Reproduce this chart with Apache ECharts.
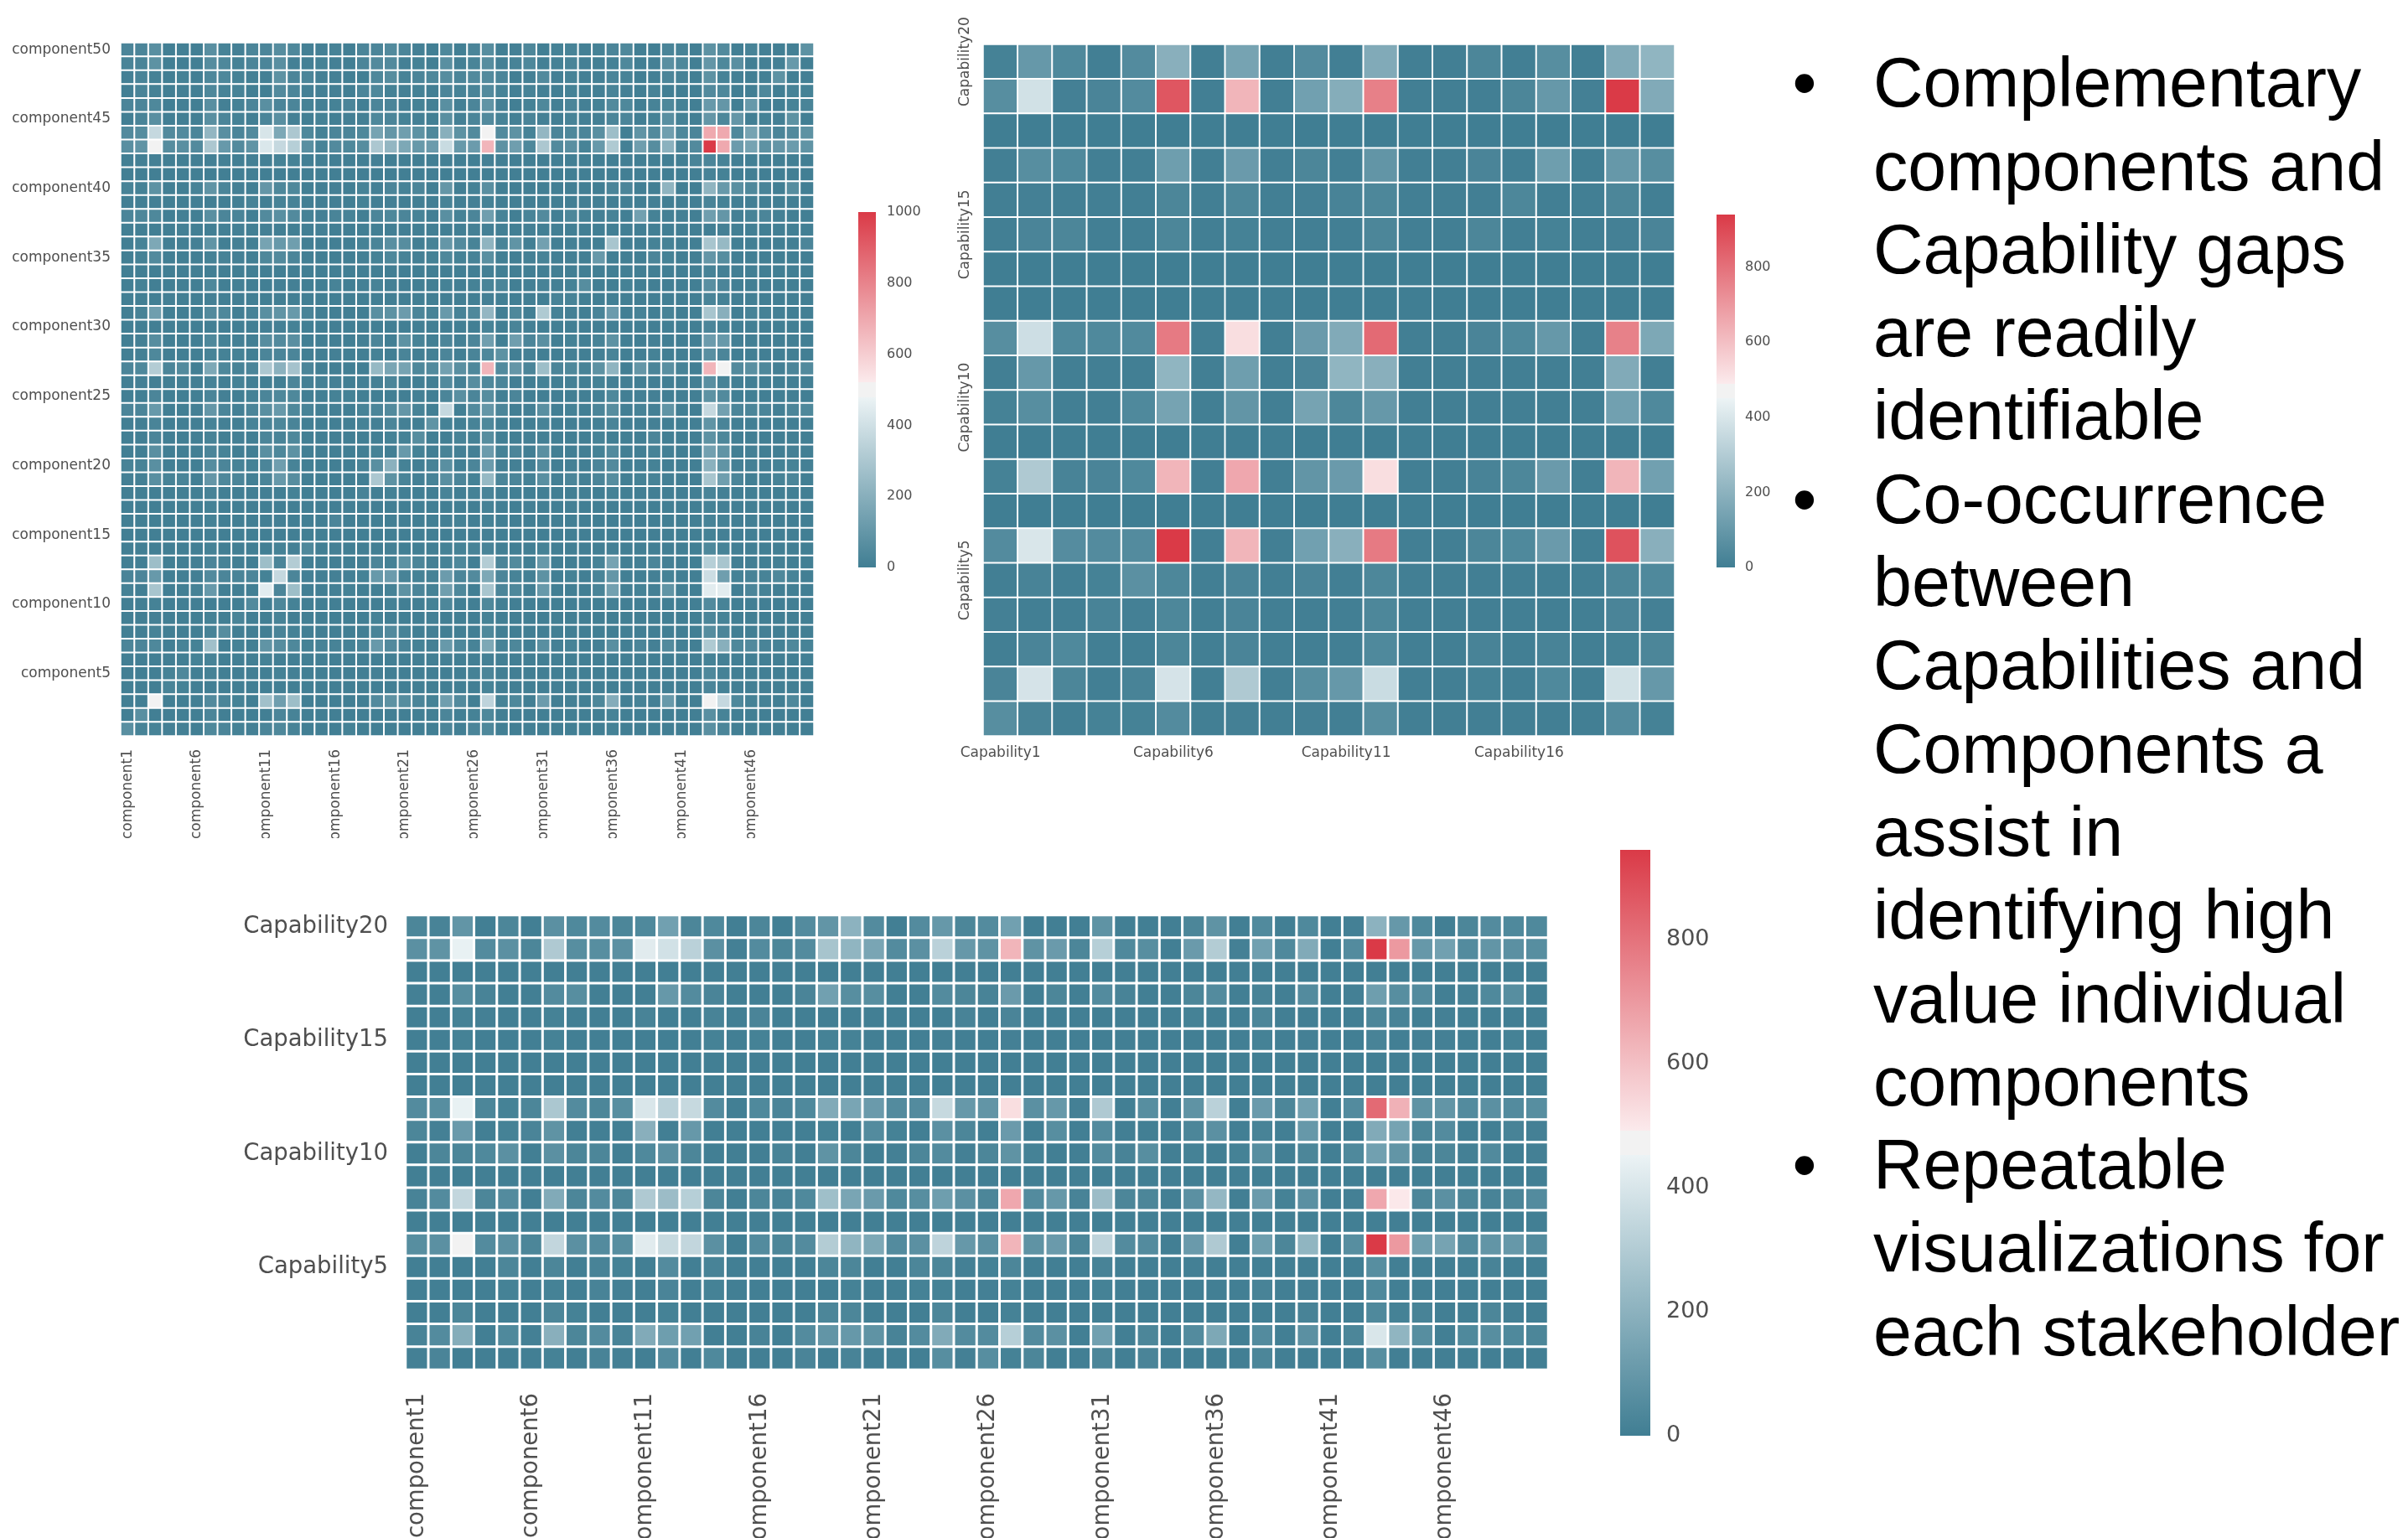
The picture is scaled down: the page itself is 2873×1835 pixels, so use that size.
<!DOCTYPE html>
<html>
<head>
<meta charset="utf-8">
<title>Capabilities and components</title>
<style>
  html, body { margin: 0; padding: 0; background: #fff; }
  #main { width: 2873px; height: 1835px; }
</style>
<script src="https://cdn.jsdelivr.net/npm/echarts@6/dist/echarts.min.js"></script>
</head>
<body>
<div id="main"></div>
<script>
// component x component, first row is component50, last row is component1
const componentRows = [
  [30,30,70,5,10,5,70,20,10,30, 30,60,40,10,10,20,5,30,30,50, 30,10,5,40,5,30,60,5,10,35, 5,15,20,10,15,30,40,5,5,25, 20,5,80,50,5,20,10,5,10,80],
  [25,25,80,5,5,5,60,40,15,30, 30,70,10,10,15,10,5,30,50,50, 10,15,5,70,10,25,60,10,20,40, 10,15,25,10,10,15,40,5,10,70, 40,5,100,40,70,5,10,10,110,5],
  [10,25,15,5,15,5,40,40,15,10, 10,80,30,30,10,10,5,5,40,60, 20,30,40,60,30,50,50,30,5,10, 50,10,20,10,10,30,20,5,10,30, 20,5,80,20,10,5,10,80,5,10],
  [5,25,15,5,10,5,40,20,20,5, 5,50,30,10,10,10,5,30,40,15, 10,15,5,30,20,25,50,20,10,20, 10,5,15,5,10,25,10,5,20,5, 5,5,50,40,5,5,40,5,20,15],
  [30,30,40,5,10,5,70,10,15,30, 70,30,30,15,10,15,30,5,30,30, 10,15,10,70,10,30,90,10,5,15, 40,10,30,10,15,50,40,5,20,40, 15,5,110,100,5,110,5,5,20,25],
  [5,25,70,5,5,5,70,30,15,5, 30,70,10,5,15,5,10,10,40,30, 15,10,5,70,10,30,50,20,10,25, 10,5,20,10,10,30,30,5,15,70, 15,5,100,35,100,5,15,10,80,5],
  [50,60,370,50,50,30,230,70,30,50, 420,170,300,40,15,30,30,40,150,100, 130,80,40,200,80,50,500,50,80,20, 230,30,40,30,70,260,5,90,50,130, 40,30,698,698,40,150,70,30,50,80],
  [70,90,500,60,70,50,300,110,50,90, 430,370,330,70,20,50,40,60,300,230, 170,110,120,380,110,120,665,80,130,40, 300,50,70,20,110,310,10,130,60,210, 30,50,1000,698,120,150,80,100,120,90],
  [5,10,10,5,5,5,10,10,5,10, 10,15,15,5,5,5,5,5,10,5, 5,5,5,10,5,5,10,5,5,5, 5,5,5,5,5,5,5,5,5,5, 5,25,30,20,5,5,5,5,5,5],
  [5,5,5,5,5,5,5,5,5,5, 5,5,5,5,5,5,5,5,5,5, 5,5,5,5,5,5,5,5,5,5, 5,5,5,5,5,5,5,5,5,5, 5,5,20,15,5,5,5,5,5,5],
  [20,15,80,5,5,20,90,30,10,5, 100,40,40,5,5,10,5,20,10,30, 20,30,5,100,5,15,70,5,5,5, 5,5,5,5,5,30,30,5,5,220, 5,5,220,110,70,40,25,5,60,5],
  [5,5,10,5,5,5,5,5,5,20, 5,20,20,5,5,5,5,15,5,10, 5,5,5,20,5,10,15,5,5,5, 5,5,5,5,10,5,5,5,10,5, 5,5,25,15,5,5,5,5,5,5],
  [30,35,40,5,10,5,70,30,25,5, 50,70,50,15,10,25,20,5,30,40, 30,20,5,70,15,30,130,20,5,25, 50,5,35,15,10,20,5,140,15,10, 10,5,130,100,10,20,30,10,5,5],
  [5,5,5,5,10,5,5,10,10,5, 10,5,5,5,10,5,5,5,5,5, 5,5,5,5,5,10,10,5,5,10, 5,5,5,5,5,5,5,5,5,5, 5,5,5,10,5,5,5,5,5,5],
  [5,20,170,5,5,10,90,5,10,5, 150,110,130,5,5,5,5,15,25,70, 60,5,20,100,50,20,220,25,90,5, 140,5,10,5,5,290,5,5,15,15, 5,5,290,240,5,5,5,5,5,30],
  [5,15,50,5,5,5,15,20,10,5, 40,50,30,5,5,5,5,10,15,40, 20,10,15,40,15,20,70,5,5,10, 20,5,10,5,110,5,5,5,30,15, 5,5,100,60,5,5,5,5,5,5],
  [5,5,5,5,5,5,5,5,5,5, 5,5,5,5,5,5,5,5,5,5, 5,5,5,5,5,5,10,5,5,5, 5,5,5,5,5,5,5,5,5,5, 5,5,20,10,5,5,5,5,5,5],
  [5,15,5,5,5,5,40,5,10,5, 5,10,10,5,5,20,5,10,20,10, 5,5,5,15,5,15,25,30,5,10, 20,10,15,60,5,5,15,5,5,5, 5,5,70,30,5,5,5,5,5,5],
  [5,5,5,10,5,5,10,5,5,5, 5,5,5,5,5,5,5,5,5,5, 5,5,5,5,5,5,10,5,5,5, 5,20,20,5,5,5,5,5,5,5, 5,5,25,15,5,5,5,5,5,5],
  [5,20,130,5,5,5,50,40,5,20, 70,90,110,25,5,5,5,5,70,80, 120,30,20,110,20,40,230,5,40,5, 310,15,10,5,25,120,5,20,5,20, 5,5,290,200,5,20,15,10,5,5],
  [5,5,5,5,5,5,5,5,5,5, 10,10,15,5,5,5,5,5,5,5, 5,5,5,5,5,5,20,5,25,10, 5,5,5,5,5,5,5,5,5,5, 5,5,30,15,5,5,5,5,5,5],
  [5,10,60,5,5,5,40,15,10,5, 60,50,70,5,5,5,5,10,30,5, 80,20,5,30,10,30,130,5,130,30, 70,5,15,5,20,80,5,5,10,5, 5,5,120,110,5,5,5,5,5,5],
  [5,10,40,5,5,5,20,15,15,5, 30,30,30,5,5,10,5,5,15,5, 25,5,10,30,5,25,40,80,5,10, 5,5,10,5,10,25,5,5,15,5, 5,5,70,30,5,5,5,5,5,5],
  [30,40,320,30,50,5,170,40,20,30, 300,210,280,30,5,5,5,5,240,160, 150,40,50,140,70,40,665,50,100,30, 260,30,40,20,80,220,5,100,30,70, 20,5,665,500,50,70,40,10,30,50],
  [5,10,5,5,5,5,20,5,15,5, 5,5,30,10,10,10,5,10,10,30, 5,5,5,50,10,60,40,30,5,5, 15,5,10,5,15,10,5,5,5,5, 5,5,70,20,5,5,5,5,5,5],
  [5,5,30,5,5,5,30,10,5,15, 30,40,40,5,5,15,15,5,5,5, 5,10,5,30,70,30,60,5,30,5, 5,5,5,5,10,40,5,10,10,5, 5,5,80,50,5,5,5,5,5,5],
  [30,30,110,5,5,10,100,30,10,30, 70,110,40,20,5,10,5,20,30,50, 100,20,5,370,5,50,100,30,5,10, 70,5,15,5,30,60,5,20,10,90, 5,5,370,140,30,30,30,10,30,40],
  [5,5,25,5,5,5,20,10,5,20, 25,35,25,5,5,5,5,15,10,30, 10,5,90,15,5,20,40,5,5,5, 20,5,5,5,10,25,5,5,10,5, 5,5,90,25,5,5,5,5,5,5],
  [5,5,30,5,5,5,20,5,10,5, 30,25,40,5,5,5,5,5,5,15, 15,60,5,5,20,15,60,5,5,10, 10,5,5,5,20,5,5,5,30,5, 5,5,80,35,5,5,5,5,5,5],
  [5,5,70,5,5,5,30,20,5,5, 70,40,80,5,5,5,5,5,15,5, 110,15,5,20,10,10,120,15,30,5, 70,5,5,5,15,50,5,5,20,10, 5,5,140,90,5,10,5,5,10,5],
  [20,20,70,5,5,5,60,30,20,15, 30,130,20,5,5,5,5,20,70,210, 15,5,20,70,5,30,120,5,10,5, 50,5,10,5,30,50,5,10,15,5, 5,5,210,90,10,10,10,15,20,10],
  [10,10,70,20,25,5,100,40,30,5, 30,110,60,5,5,5,5,5,300,80, 25,10,20,70,30,15,240,30,30,15, 70,10,30,10,30,60,5,15,20,10, 5,5,290,130,30,5,10,20,30,5],
  [5,5,5,5,5,5,20,5,5,5, 5,5,15,5,5,5,5,20,5,15, 5,5,5,20,5,15,25,5,5,5, 5,5,5,5,5,15,5,5,5,5, 5,5,25,10,5,5,5,5,5,5],
  [5,5,5,5,5,5,15,5,5,5, 5,5,5,5,5,5,10,5,5,5, 5,5,5,5,5,5,15,5,5,10, 5,5,10,5,5,5,5,5,5,5, 5,5,15,10,5,5,5,5,5,5],
  [5,5,5,5,5,5,15,5,5,5, 5,10,5,5,5,30,5,5,5,5, 5,5,5,10,15,5,15,5,5,5, 5,5,5,5,5,5,5,5,5,5, 5,5,20,15,5,5,5,5,5,5],
  [5,5,5,5,5,5,10,5,5,5, 5,5,5,5,5,5,5,5,5,5, 5,5,5,5,5,5,10,5,5,5, 5,5,5,5,5,5,5,5,5,5, 5,5,15,10,5,5,5,5,5,5],
  [5,5,5,5,5,5,15,5,5,5, 5,15,10,40,5,10,5,5,5,10, 5,5,5,15,15,20,25,5,5,5, 15,5,5,5,5,10,5,5,5,5, 5,5,40,20,5,5,5,5,5,5],
  [5,5,260,5,5,5,30,20,5,5, 260,30,320,5,5,5,5,5,30,15, 80,30,10,20,40,5,320,30,50,5, 110,5,5,5,20,150,5,10,30,10, 5,5,330,290,5,5,5,10,5,5],
  [25,30,110,5,5,5,50,30,25,30, 15,370,30,10,5,10,10,15,110,120, 20,15,15,120,30,50,170,30,20,10, 80,5,15,5,25,100,5,5,10,15, 5,5,390,130,15,20,20,40,20,5],
  [15,5,290,5,5,15,110,5,5,5, 450,30,260,5,5,10,15,5,5,15, 80,30,15,130,40,5,290,30,40,5, 110,5,5,5,25,140,5,15,10,90, 5,5,450,450,5,30,15,5,5,5],
  [5,5,15,5,5,5,5,5,5,50, 5,35,15,5,5,5,5,5,5,15, 5,5,15,35,5,5,40,5,5,5, 5,5,5,5,5,10,5,5,5,5, 5,5,50,20,5,5,5,5,5,5],
  [5,5,10,5,5,5,15,5,25,5, 5,20,5,5,5,5,5,5,15,5, 5,5,10,5,5,5,15,5,5,5, 5,5,5,5,5,5,5,5,5,5, 5,5,30,20,5,5,5,5,5,5],
  [5,5,20,5,5,5,20,60,5,5, 5,25,15,5,5,5,5,5,25,50, 20,5,10,5,5,5,40,5,5,5, 5,5,5,5,5,5,5,5,5,5, 5,5,60,30,5,5,10,5,5,5],
  [30,30,40,5,20,15,270,5,15,5, 90,60,40,15,20,20,15,25,110,50, 25,15,10,110,40,20,170,20,35,5, 70,10,20,5,10,70,5,30,10,50, 10,5,310,200,40,50,25,15,40,20],
  [5,5,5,5,5,15,20,5,5,5, 15,5,5,5,5,5,5,5,5,5, 5,5,5,10,5,5,10,5,5,5, 5,5,5,5,5,5,5,5,5,5, 5,5,15,10,5,5,5,5,5,5],
  [5,5,5,20,40,5,15,5,5,5, 5,15,10,5,5,5,5,5,10,5, 5,5,5,5,5,15,30,5,5,5, 5,5,5,5,5,5,5,5,5,5, 5,5,40,15,5,5,5,5,5,5],
  [5,5,5,25,15,5,5,5,5,5, 5,5,5,5,5,5,5,5,5,5, 5,5,5,5,5,5,20,5,5,5, 5,5,5,5,5,5,5,5,5,5, 5,5,30,15,5,5,5,5,5,5],
  [5,5,500,5,5,5,50,30,15,5, 270,130,260,5,5,5,5,5,50,80, 60,30,15,130,50,5,350,20,40,5, 120,5,10,5,35,190,5,20,10,110, 5,5,500,370,40,15,15,5,40,5],
  [5,70,5,5,5,5,30,5,5,5, 5,30,20,5,5,5,5,5,5,5, 5,5,5,30,5,15,40,5,5,5, 5,5,5,5,5,20,5,5,5,5, 5,5,70,20,5,5,5,5,5,5],
  [70,20,20,10,10,5,40,30,15,10, 30,40,20,5,5,5,15,5,5,5, 5,5,5,30,5,30,40,5,5,5, 5,5,5,5,5,15,5,5,5,5, 5,5,70,30,5,5,5,5,5,5]
];

// capability x capability, first row is Capability20
const capabilityRows = [
  [15,100,40,5,50,190,5,140,5,50,5,170,5,5,30,5,60,5,170,210],
  [60,380,10,25,50,870,5,625,5,130,180,762,5,5,5,30,100,10,940,170],
  [0,0,0,0,0,0,0,0,0,0,0,0,0,0,0,0,0,0,0,0],
  [5,60,40,5,5,120,5,110,5,30,5,90,5,5,25,5,120,5,100,60],
  [5,10,5,5,5,30,5,35,5,10,20,35,5,5,5,35,5,5,30,5],
  [5,25,30,5,5,30,5,15,5,5,5,30,5,5,30,5,15,5,10,25],
  [0,0,0,0,0,0,0,0,0,0,0,0,0,0,0,0,0,0,0,0],
  [0,0,0,0,0,0,0,0,0,0,0,0,0,0,0,0,0,0,0,0],
  [60,370,40,40,45,776,5,522,5,110,170,818,5,5,25,40,100,5,760,160],
  [5,100,5,5,5,210,5,120,5,25,210,190,5,5,5,5,5,5,170,5],
  [15,60,5,5,40,140,5,90,5,140,35,100,5,5,5,5,5,5,130,40],
  [0,0,0,0,0,0,0,0,0,0,0,0,0,0,0,0,0,0,0,0],
  [15,290,20,25,40,625,5,660,5,90,110,522,5,5,20,35,110,5,625,130],
  [0,0,0,0,0,0,0,0,0,0,0,0,0,0,0,0,0,0,0,0],
  [50,400,55,50,50,940,5,625,5,130,190,776,5,5,30,40,110,5,880,190],
  [5,20,5,15,70,35,5,25,5,25,5,35,5,5,5,5,5,5,30,40],
  [10,5,5,20,10,35,5,25,5,5,5,35,5,5,5,5,5,5,25,10],
  [5,25,40,5,5,30,5,25,5,5,5,40,5,5,20,5,20,5,15,30],
  [25,390,30,5,20,390,5,290,5,60,100,360,5,5,15,5,40,5,380,100],
  [60,20,5,15,15,50,5,10,5,10,5,60,5,5,5,5,5,5,50,15]
];

// capability x component, first row is Capability20
const mixedRows = [
  [30,20,90,5,30,5,70,40,50,30, 40,130,30,40,5,30,5,50,90,200, 50,5,50,100,30, 50,130,5,5,5,80,5,5,5,30,80,5,45,5,40,5,10,200,100,40,5,30,50,40,40],
  [70,80,440,50,70,30,290,60,60,70, 420,380,320,70,10,50,30,50,270,210, 150,50,70,320,100, 80,625,80,110,30,310,40,60,5,110,300,10,130,40,170,5,50,940,697,100,130,50,90,70,60],
  [5,5,5,5,5,5,5,5,5,5, 5,5,5,5,5,5,5,5,5,5, 5,5,5,5,5, 5,5,5,5,5,5,5,5,5,5,5,5,5,5,5,5,5,5,5,5,5,5,5,5,5],
  [10,5,60,20,5,5,50,60,5,5, 5,100,50,25,5,5,5,25,130,60, 60,5,5,50,30, 20,110,5,30,5,50,20,5,5,30,50,5,20,5,50,5,10,120,60,50,5,10,40,60,5],
  [5,5,15,10,5,5,15,5,5,5, 20,5,5,20,5,25,5,5,5,5, 5,5,5,5,20, 5,25,5,5,5,5,5,5,5,15,5,5,30,5,5,5,5,30,20,5,10,5,5,5,5],
  [5,5,15,5,5,5,15,5,5,5, 5,5,5,15,5,15,5,5,15,15, 5,5,5,10,5, 5,10,5,5,5,5,5,5,5,5,5,5,15,5,10,5,5,20,5,10,10,5,5,15,5],
  [5,5,5,5,5,5,5,5,5,5, 5,5,5,5,5,5,5,5,5,5, 5,5,5,5,5, 5,5,5,5,5,5,5,5,5,5,5,5,5,5,5,5,5,5,5,5,5,5,5,5,5],
  [5,5,5,5,5,5,5,5,5,5, 5,5,5,5,5,5,5,5,5,5, 5,5,5,5,5, 5,5,5,5,5,5,5,5,5,5,5,5,5,5,5,5,5,5,5,5,5,5,5,5,5],
  [50,60,440,30,15,30,280,50,30,60, 400,320,350,50,5,40,25,40,170,150, 110,50,50,350,100, 90,522,70,100,10,290,5,60,5,80,320,5,110,30,130,5,50,818,634,80,90,50,70,50,60],
  [30,10,110,5,15,25,80,5,5,5, 190,5,100,5,5,5,5,5,15,5, 50,15,5,70,30, 5,110,5,60,5,50,5,5,5,30,70,5,20,5,100,5,5,170,140,30,50,5,5,20,10],
  [5,30,30,40,70,5,70,30,30,5, 40,70,30,5,5,5,20,5,80,30, 5,10,30,50,10, 30,80,15,5,5,50,20,60,5,15,5,15,60,5,30,5,40,130,90,20,30,10,45,5,10],
  [5,5,5,5,5,5,5,5,5,5, 5,5,5,5,5,5,5,5,5,5, 5,5,5,5,5, 5,5,5,5,5,5,5,5,5,5,5,5,5,5,5,5,5,5,5,5,5,5,5,5,5],
  [20,50,340,30,50,5,170,30,50,30, 290,240,310,30,5,30,20,40,250,150, 110,40,60,120,70, 30,660,50,100,20,240,30,30,5,70,220,5,110,15,70,5,10,660,495,30,70,30,20,30,50],
  [5,5,5,5,5,5,5,5,5,5, 5,5,5,5,5,5,5,5,5,5, 5,5,5,5,5, 5,5,5,5,5,5,5,5,5,5,5,5,5,5,5,5,5,5,5,5,5,5,5,5,5],
  [60,70,470,50,70,30,340,70,50,60, 420,350,340,70,5,50,30,50,300,210, 160,50,70,330,100, 70,625,80,110,30,330,50,50,5,110,290,5,120,30,210,5,60,940,697,120,140,50,90,100,50],
  [5,5,5,5,30,5,30,5,20,15, 5,50,5,20,5,5,5,5,30,30, 5,5,30,30,10, 15,30,5,5,5,20,5,5,5,10,5,5,5,5,5,5,5,60,5,5,5,5,20,5,5],
  [5,5,5,5,15,5,15,5,20,10, 5,25,5,15,5,5,5,5,5,15, 5,5,15,15,5, 10,15,5,5,5,15,5,5,5,5,5,5,20,5,10,5,5,40,5,5,5,5,5,5,5],
  [5,5,30,5,5,5,30,15,5,5, 5,15,5,5,5,5,5,5,30,30, 5,5,5,30,5, 5,15,5,5,5,5,5,5,5,5,5,5,5,5,20,5,5,40,15,20,5,5,30,10,5],
  [20,50,180,5,40,10,190,30,50,20, 170,120,130,5,5,20,5,50,90,100, 80,20,50,170,50, 50,310,50,70,5,130,5,30,5,50,160,5,50,5,70,5,30,400,210,60,5,40,60,40,30],
  [10,25,5,5,5,5,15,5,20,10, 5,50,5,40,5,5,5,25,5,20, 5,5,5,60,10, 60,15,30,5,5,30,5,25,5,5,5,5,30,5,5,5,5,60,5,5,5,5,5,5,5]
];

const componentNames = [];
for (let i = 1; i <= 50; i++) componentNames.push('component' + i);
const capabilityNames = [];
for (let i = 1; i <= 20; i++) capabilityNames.push('Capability' + i);

const textLines = [
  'Complementary', 'components and', 'Capability gaps', 'are readily', 'identifiable',
  'Co-occurrence', 'between', 'Capabilities and', 'Components a', 'assist in',
  'identifying high', 'value individual', 'components',
  'Repeatable', 'visualizations for', 'each stakeholder'
];
const bulletLines = [0, 5, 13];

const labelColor = '#4f4f4f';
const gradientStops = [
  { offset: 0, color: '#407e93' },
  { offset: 0.479, color: '#ecf3f5' },
  { offset: 0.48, color: '#f2f2f2' },
  { offset: 0.52, color: '#f2f2f2' },
  { offset: 0.521, color: '#fbeaec' },
  { offset: 1, color: '#da3a47' }
];

// visualMap spaces its colours evenly, so sample the palette finely
function rampColors() {
  let colors = [];
  for (let i = 0; i <= 200; i++) {
    let t = i / 200, k = 0;
    while (k < gradientStops.length - 2 && t > gradientStops[k + 1].offset) k++;
    let a = gradientStops[k], b = gradientStops[k + 1];
    colors.push(echarts.color.lerp((t - a.offset) / (b.offset - a.offset), [a.color, b.color]));
  }
  return colors;
}

function toCells(rows) {
  let cells = [];
  rows.forEach((row, y) => row.forEach((v, x) => cells.push([x, y, v])));
  return cells;
}

const grid = [], xAxis = [], yAxis = [], series = [], visualMap = [];
const ramp = rampColors();

function addHeatmap(rows, xNames, yNames, box, opt) {
  let g = grid.length;
  // labels run off the page on purpose, keep the grid where it was put
  grid.push(Object.assign({ outerBoundsMode: 'none' }, box));
  xAxis.push({
    gridIndex: g, type: 'category', data: xNames, position: 'bottom',
    axisLine: { show: false }, axisTick: { show: false }, splitLine: { show: false },
    axisLabel: {
      interval: (i) => i % 5 === 0, rotate: opt.xRotate, margin: opt.xMargin,
      fontFamily: 'DejaVu Sans', fontSize: opt.fontSize, color: labelColor
    }
  });
  yAxis.push({
    gridIndex: g, type: 'category', data: yNames.slice().reverse(), inverse: true,
    axisLine: { show: false }, axisTick: { show: false }, splitLine: { show: false },
    axisLabel: {
      interval: (i) => i % 5 === 0, rotate: opt.yRotate, margin: opt.yMargin,
      fontFamily: 'DejaVu Sans', fontSize: opt.fontSize, color: labelColor
    }
  });
  visualMap.push({
    show: false, type: 'continuous', seriesIndex: series.length, dimension: 2,
    min: 0, max: opt.max, inRange: { color: ramp }
  });
  series.push({
    type: 'heatmap', xAxisIndex: g, yAxisIndex: g, data: toCells(rows), progressive: 0,
    itemStyle: { borderColor: '#fff', borderWidth: opt.border },
    emphasis: { disabled: true }
  });
}

function addColorbar(box, max, fontSize, margin) {
  let g = grid.length;
  grid.push(Object.assign({ outerBoundsMode: 'none' }, box));
  xAxis.push({ gridIndex: g, type: 'category', data: ['scale'], show: false });
  yAxis.push({
    gridIndex: g, type: 'value', position: 'right', min: 0, max: max, interval: 200,
    axisLine: { show: false }, axisTick: { show: false }, splitLine: { show: false },
    axisLabel: {
      margin: margin, fontFamily: 'DejaVu Sans', fontSize: fontSize, color: labelColor,
      showMaxLabel: max % 200 === 0,
      formatter: (v) => String(v)
    }
  });
  series.push({
    type: 'bar', xAxisIndex: g, yAxisIndex: g, data: [max], barWidth: '100%', silent: true,
    itemStyle: { color: new echarts.graphic.LinearGradient(0, 1, 0, 0, gradientStops) }
  });
}

addHeatmap(componentRows, componentNames, componentNames,
  { left: 144, top: 51, width: 827, height: 827 },
  { max: 1000, border: 2, fontSize: 17, xRotate: 90, xMargin: 16, yRotate: 0, yMargin: 12 });
addColorbar({ left: 1024, top: 253, width: 21, height: 424 }, 1000, 16, 13);

addHeatmap(capabilityRows, capabilityNames, capabilityNames,
  { left: 1173, top: 53, width: 825, height: 825 },
  { max: 940, border: 2, fontSize: 17, xRotate: 0, xMargin: 12, yRotate: 90, yMargin: 13 });
addColorbar({ left: 2048, top: 256, width: 22, height: 421 }, 940, 16, 12);

addHeatmap(mixedRows, componentNames, capabilityNames,
  { left: 484, top: 1092, width: 1363, height: 542 },
  { max: 940, border: 3, fontSize: 27.5, xRotate: 90, xMargin: 28, yRotate: 0, yMargin: 21 });
addColorbar({ left: 1933, top: 1014, width: 36, height: 699 }, 945, 27, 19);

const textTop = 104.5, textStep = 99.3;
const graphic = [
  // the x labels of the first chart are cut off in the source picture
  { type: 'rect', z: 100, shape: { x: 130, y: 1000, width: 860, height: 40 }, style: { fill: '#fff' } }
];
textLines.forEach((line, i) => {
  graphic.push({
    type: 'text', x: 2235, y: textTop + i * textStep, z: 100,
    style: { text: line, fontFamily: 'Liberation Sans', fontSize: 82.5, fill: '#000', verticalAlign: 'middle' }
  });
});
bulletLines.forEach((i) => {
  graphic.push({
    type: 'text', x: 2153, y: textTop + i * textStep, z: 100,
    style: { text: '•', fontFamily: 'Liberation Sans', fontSize: 82.5, fill: '#000', align: 'center', verticalAlign: 'middle' }
  });
});

const chart = echarts.init(document.getElementById('main'), null, { width: 2873, height: 1835 });
chart.setOption({
  animation: false,
  backgroundColor: '#fff',
  grid: grid,
  xAxis: xAxis,
  yAxis: yAxis,
  visualMap: visualMap,
  series: series,
  graphic: graphic
});
</script>
</body>
</html>
